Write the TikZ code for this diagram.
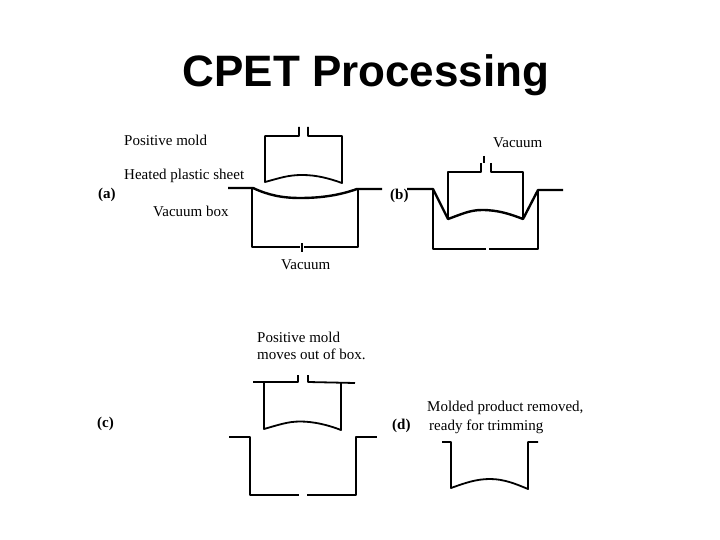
\documentclass[tikz,border=0pt]{standalone}
\usepackage{fontspec}
\setmainfont{Liberation Serif}
\newfontfamily\titlefont{Liberation Sans}
\tikzset{
  lab/.style={inner sep=0pt,anchor=west,font=\fontsize{15}{17}\selectfont,text=black},
  tag/.style={inner sep=0pt,anchor=west,font=\fontsize{15}{17}\selectfont\bfseries,text=black},
  thin line/.style={draw=black,line width=1.8pt,line join=round},
  thick line/.style={draw=black,line width=2.4pt,line join=round},
}
\begin{document}
\begin{tikzpicture}[x=1pt,y=-1pt]
\useasboundingbox (0,0) rectangle (720,540);
\fill[white] (0,0) rectangle (720,540);
\node[inner sep=0pt,anchor=base,font=\titlefont\fontsize{44}{50}\selectfont\bfseries] (title) at (366,87) {CPET Processing};
% (a)
\node[lab] (a1) at (124,140) {Positive mold};
\node[lab] (a2) at (124,176) {Heated plastic sheet};
\node[lab] (a3) at (153,211) {Vacuum box};
\node[lab] (a4) at (281,265) {Vacuum};
\node[tag] (atag) at (98,195) {(a)};
\draw[thin line] (299,127) -- (299,136) -- (265,136) -- (265,182) .. controls (280,178) and (288,175) .. (302,175) .. controls (316,175) and (328,178) .. (342,183) -- (342,136) -- (308,136) -- (308,127);
\draw[thin line] (252,188) -- (252,247) -- (300,247);
\draw[thin line] (304,247) -- (358,247) -- (358,189);
\draw[thin line] (302,243) -- (302,252);
\draw[thick line] (228,188) -- (253,188) .. controls (268,195) and (282,198) .. (300,198) .. controls (322,198) and (340,195) .. (357,189) -- (382,189);
% (b)
\node[lab] (b1) at (493,143) {Vacuum};
\node[tag] (btag) at (390,196) {(b)};
\draw[thin line] (484,156) -- (484,163);
\draw[thin line] (481,163) -- (481,172) -- (448,172) -- (448,219);
\draw[thin line] (491,163) -- (491,172) -- (523,172) -- (523,219);
\draw[thin line] (433,189) -- (433,249) -- (486,249);
\draw[thin line] (489,249) -- (538,249) -- (538,190);
\draw[thick line] (407,189) -- (433,189) -- (448,219) .. controls (462,214) and (470,210) .. (482,210) .. controls (498,210) and (510,214) .. (523,219) -- (538,190) -- (563,190);
% (c)
\node[lab] (c1) at (257,337) {Positive mold};
\node[lab] (c2) at (257,354) {moves out of box.};
\node[tag] (ctag) at (97,424) {(c)};
\draw[thin line] (253,382) -- (298,382) -- (298,375);
\draw[thin line] (308,375) -- (308,382) -- (355,383);
\draw[thin line] (264,382) -- (264,429) .. controls (278,425) and (288,421.500) .. (300,421.500) .. controls (314,421.500) and (328,425) .. (341,430) -- (341,382);
\draw[thin line] (229,437) -- (250,437) -- (250,495) -- (299,495);
\draw[thin line] (307,495) -- (356,495) -- (356,437) -- (377,437);
% (d)
\node[lab] (d1) at (427,408) {Molded product removed,};
\node[lab] (d2) at (429,427) {ready for trimming};
\node[tag] (dtag) at (392,426) {(d)};
\draw[thin line] (442,442) -- (451,442) -- (451,488) .. controls (465,483) and (476,479) .. (490,479) .. controls (504,479) and (516,484) .. (528,489) -- (528,442) -- (538,442);
\end{tikzpicture}
\end{document}
